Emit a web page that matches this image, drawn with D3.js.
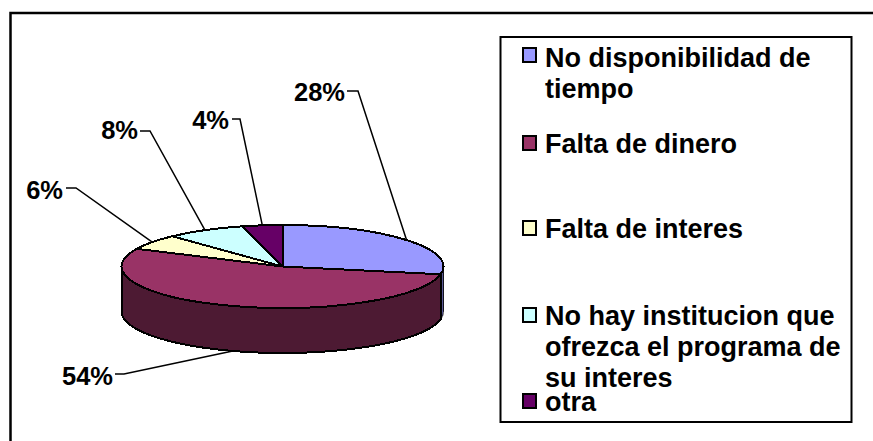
<!DOCTYPE html>
<html>
<head>
<meta charset="utf-8">
<script src="https://cdn.jsdelivr.net/npm/d3@7"></script>
<style>
html, body { margin: 0; padding: 0; background: #fff; }
svg { display: block; }
text { font-family: "Liberation Sans", Arial, sans-serif; font-weight: bold; fill: #000; }
</style>
</head>
<body>
<div id="chart"></div>
<script>
const categories = ["No disponibilidad de tiempo", "Falta de dinero", "Falta de interes", "No hay institucion que ofrezca el programa de su interes", "otra"];
const values = [28, 54, 6, 8, 4];
const colors = ["#9999ff", "#993366", "#ffffcc", "#ccffff", "#660066"];
const sideColors = ["#5a5a96", "#4d1a33", "#808066", "#668080", "#330033"];
const legendLines = [["No disponibilidad de", "tiempo"], ["Falta de dinero"], ["Falta de interes"], ["No hay institucion que", "ofrezca el programa de", "su interes"], ["otra"]];

//label layout: text end + baseline, then where the leader line starts and bends
const labelPos = [
  {x: 345, y: 101, x0: 347, y0: 91, elbow: 358},
  {x: 113, y: 385, x0: 115, y0: 374, elbow: 124},
  {x: 63, y: 199, x0: 66, y0: 188, elbow: 76},
  {x: 138, y: 139, x0: 140, y0: 131, elbow: 150},
  {x: 229, y: 129, x0: 232, y0: 119, elbow: 240}
];
const swatchY = [48, 136, 221, 308, 394];
const legendBase = [67, 153, 238, 325, 411];

const width = 873, height = 441;
const cx = 282.5, cy = 266.5, rx = 161, ry = 41.5, depth = 45;

const svg = d3.select("#chart").append("svg")
  .attr("width", width)
  .attr("height", height);

//the frame only shows on the top and left, the rest is cropped
svg.append("path")
  .attr("d", d3.line()([[10.5, height], [10.5, 13], [width, 13]]))
  .attr("fill", "none")
  .attr("stroke", "#000")
  .attr("stroke-width", 2.5);

const arcs = d3.pie().sort(null).value(d => d)(values);

//flat ellipse point for an angle measured clockwise from the top
function pt(a, dy) {
  return [cx + rx * Math.sin(a), cy - ry * Math.cos(a) + (dy || 0)];
}

//side wall of the cylinder, only the part of each slice facing the viewer
const lo = Math.PI / 2, hi = Math.PI * 1.5;
const line = d3.line();
arcs.forEach(function(d, i) {
  const a0 = Math.max(d.startAngle, lo), a1 = Math.min(d.endAngle, hi);
  if (a1 <= a0) return;
  const top = d3.range(0, 61).map(k => pt(a0 + (a1 - a0) * k / 60));
  const bottom = top.map(p => [p[0], p[1] + depth]).reverse();
  svg.append("path")
    .attr("d", line(top.concat(bottom)) + "Z")
    .attr("fill", sideColors[i])
    .attr("stroke", "#000")
    //the blue wall is a thin sliver, a full stroke would hide it
    .attr("stroke-width", i === 0 ? 0.8 : 2)
    .attr("stroke-linejoin", "round")
    .attr("shape-rendering", "crispEdges");
});

//top face, d3.arc squashed into an ellipse
const arc = d3.arc().innerRadius(0).outerRadius(rx);
svg.append("g")
  .attr("transform", "translate(" + cx + "," + cy + ") scale(1," + (ry / rx) + ")")
  .selectAll("path")
  .data(arcs)
  .enter()
  .append("path")
  .attr("d", arc)
  .attr("fill", (d, i) => colors[i])
  .attr("stroke", "#000")
  .attr("stroke-width", 2)
  .attr("stroke-linejoin", "round")
  .attr("vector-effect", "non-scaling-stroke")
  .attr("shape-rendering", "crispEdges");

//leader lines and percentage labels
arcs.forEach(function(d, i) {
  const mid = (d.startAngle + d.endAngle) / 2;
  const onFront = mid > lo && mid < hi;
  const end = pt(mid, onFront ? depth : 0);
  const p = labelPos[i];
  svg.append("path")
    .attr("d", line([[p.x0, p.y0], [p.elbow, p.y0], end]))
    .attr("fill", "none")
    .attr("stroke", "#000")
    .attr("stroke-width", 1.5);
  svg.append("text")
    .attr("x", p.x)
    .attr("y", p.y)
    .attr("text-anchor", "end")
    .attr("font-size", 25.5)
    .text(values[i] + "%");
});

//legend
const legend = svg.append("g");
legend.append("rect")
  .attr("x", 500.5).attr("y", 37)
  .attr("width", 351).attr("height", 385)
  .attr("fill", "none")
  .attr("stroke", "#000")
  .attr("stroke-width", 2);

categories.forEach(function(c, i) {
  legend.append("rect")
    .attr("x", 523).attr("y", swatchY[i])
    .attr("width", 13).attr("height", 14)
    .attr("fill", colors[i])
    .attr("stroke", "#000")
    .attr("stroke-width", 2);
  legendLines[i].forEach(function(t, j) {
    legend.append("text")
      .attr("x", 545)
      .attr("y", legendBase[i] + j * 31)
      .attr("font-size", 27)
      .text(t);
  });
});
</script>
</body>
</html>
